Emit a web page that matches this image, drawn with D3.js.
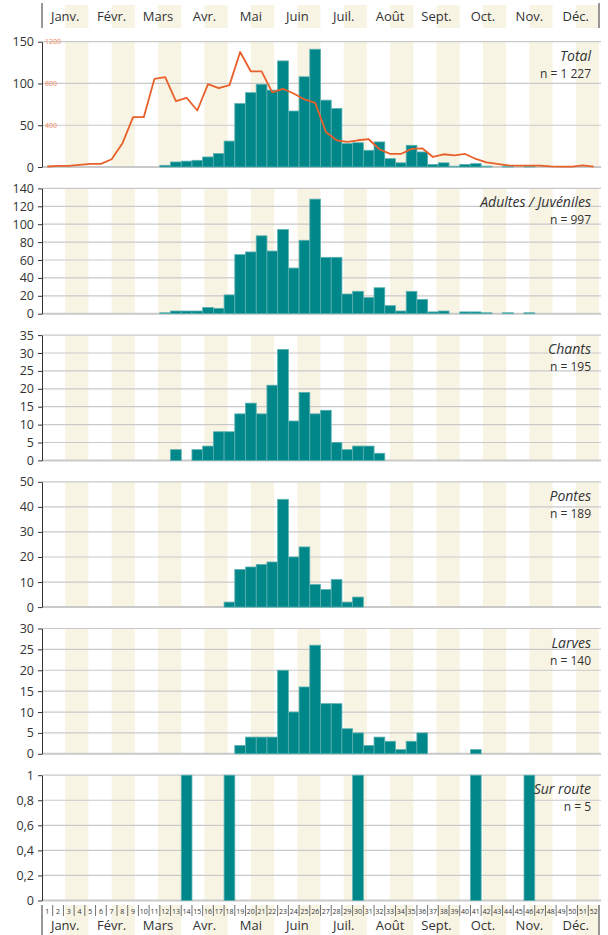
<!DOCTYPE html>
<html><head><meta charset="utf-8">
<script src="https://cdn.jsdelivr.net/npm/d3@7"></script>
<style>
body{margin:0;background:#fff;}
svg{display:block;font-family:"Open Sans",sans-serif;}
</style></head>
<body><svg id="c" width="608" height="935"></svg>
<script>
// ---------- DATA ----------
const weeks = d3.range(1, 53);
const months = ["Janv.","Févr.","Mars","Avr.","Mai","Juin","Juil.","Août","Sept.","Oct.","Nov.","Déc."];

const totalValues = [0,0,0,0,0,0,0,0,0,0,0, 2,6,7,8,12,16,31, 76,89,99,92,127,67,108, 141,80,70,28,29,20,30, 10,5,26,18,3,5,1, 3,4,1,0,1,0,1, 0,0,0,0,0,0];
const totalLine   = [5,10,10,20,30,30,74,224,477,477,845,861,631,663,541,794,755,784,1101,915,915,714,749,704,647,615,336,256,240,256,266,170,125,125,173,179,96,122,112,125,77,45,29,16,13,13,13,6,3,3,16,3];
const adultValues = [0,0,0,0,0,0,0,0,0,0,0, 1,3,3,3,7,6,21, 66,69,87,70,94,51,82, 128,63,63,22,25,18,29, 9,3,25,16,2,3,0, 2,2,1,0,1,0,1, 0,0,0,0,0,0];
const chantValues = [0,0,0,0,0,0,0,0,0,0,0,0, 3,0,3,4,8,8,13,16,13,21,31,11,19,13,14,5,3,4,4,2, 0,0,0,0,0,0,0,0,0,0,0,0,0,0,0,0,0,0,0,0];
const ponteValues = [0,0,0,0,0,0,0,0,0,0,0,0,0,0,0,0,0, 2,15,16,17,18,43,20,24,9,7,11,2,4, 0,0,0,0,0,0,0,0,0,0,0,0,0,0,0,0,0,0,0,0,0,0];
const larveValues = [0,0,0,0,0,0,0,0,0,0,0,0,0,0,0,0,0,0, 2,4,4,4,20,10,16,26,12,12,6,5,2,4,3,1,3,5, 0,0,0,0, 1, 0,0,0,0,0,0,0,0,0,0,0];
const routeValues = [0,0,0,0,0,0,0,0,0,0,0,0,0,1,0,0,0,1,0,0,0,0,0,0,0,0,0,0,0,1,0,0,0,0,0,0,0,0,0,0,1,0,0,0,0,1,0,0,0,0,0,0];

const panelTitles = ["Total","Adultes / Juvéniles","Chants","Pontes","Larves","Sur route"];
const panelCounts = ["n = 1 227","n = 997","n = 195","n = 189","n = 140","n = 5"];
const panelTicks = [
  [0,50,100,150],
  [0,20,40,60,80,100,120,140],
  [0,5,10,15,20,25,30,35],
  [0,10,20,30,40,50],
  [0,5,10,15,20,25,30],
  [0,0.2,0.4,0.6,0.8,1]
];
const lineTicks = [400,800,1200];
const lineMax = 1200;
const seriesList = [totalValues, adultValues, chantValues, ponteValues, larveValues, routeValues];

// ---------- LAYOUT ----------
const svg = d3.select("#c");
const left = 42, right = 599;
const x = d3.scaleLinear().domain([0, 52]).range([left, right]);
const xm = d3.scaleLinear().domain([0, 12]).range([left, right]);
const bw = x(1) - x(0);
const panelTop0 = 41.7, panelStep = 146.7, panelH = 125.3;

const stripeCol = "#f8f4e4";
const barFill = "#00878a", barStroke = "#5bb0b0";
const gridCol = "#c9c9c9", textCol = "#333";
const fmtFR = d => String(d).replace(".", ",");

function stripes(y0, y1) {
  svg.append("g").selectAll("rect").data(d3.range(12)).join("rect")
    .attr("x", m => xm(m + 0.5)).attr("width", m => xm(m + 1) - xm(m + 0.5))
    .attr("y", y0).attr("height", y1 - y0).attr("fill", stripeCol);
}

// header
stripes(5, 28);
svg.append("g").selectAll("line").data([left, right]).join("line")
  .attr("x1", d => d).attr("x2", d => d).attr("y1", 3).attr("y2", 28)
  .attr("stroke", textCol).attr("stroke-width", 1);
svg.append("g").selectAll("text").data(months).join("text")
  .attr("x", (d, i) => xm(i + 0.5)).attr("y", 20.5)
  .attr("text-anchor", "middle").attr("font-size", 13).attr("fill", textCol).text(d => d);

seriesList.forEach((vals, p) => {
  const top = panelTop0 + p * panelStep, bot = top + panelH;
  const ticks = panelTicks[p];
  const y = d3.scaleLinear().domain([0, d3.max(ticks)]).range([bot, top]);
  stripes(top, bot);
  // grid
  svg.append("g").selectAll("line").data(ticks).join("line")
    .attr("x1", left).attr("x2", right + 2).attr("y1", d => y(d)).attr("y2", d => y(d))
    .attr("stroke", gridCol).attr("stroke-width", d => d === 0 ? 2 : 1.2);
  // bars
  const data = weeks.map((w, i) => ({w, v: vals[i]})).filter(d => d.v > 0);
  svg.append("g").selectAll("rect").data(data).join("rect")
    .attr("x", d => x(d.w - 1)).attr("width", bw)
    .attr("y", d => y(d.v)).attr("height", d => y(0) - y(d.v))
    .attr("fill", barFill).attr("stroke", barStroke).attr("stroke-width", 0.8);
  if (p === 0) {
    const y2 = d3.scaleLinear().domain([0, lineMax]).range([bot, top]);
    svg.append("path").datum(totalLine)
      .attr("d", d3.line().x((d, i) => x(i + 0.5)).y(d => y2(d)))
      .attr("fill", "none").attr("stroke", "#e8602a").attr("stroke-width", 1.8)
      .attr("stroke-linejoin", "round");
    const a2 = svg.append("g").attr("transform", `translate(${left},0)`)
      .call(d3.axisRight(y2).tickValues(lineTicks).tickSize(0).tickPadding(3).tickFormat(d3.format("d")));
    a2.select(".domain").remove();
    a2.selectAll("text").attr("font-size", 7).attr("fill", "#f0875e").attr("font-family", "Open Sans, sans-serif");
  }
  // y axis
  const ax = svg.append("g").attr("transform", `translate(${left},0)`)
    .call(d3.axisLeft(y).tickValues(ticks).tickSize(4).tickSizeOuter(0).tickPadding(4)
      .tickFormat(p === 5 ? fmtFR : d3.format("d")));
  ax.select(".domain").attr("stroke", textCol);
  ax.selectAll(".tick line").attr("stroke", textCol);
  ax.selectAll("text").attr("font-size", 12.5).attr("fill", textCol).attr("font-family", "Open Sans, sans-serif");
  // titles
  svg.append("text").attr("x", right - 8).attr("y", top + 19)
    .attr("text-anchor", "end").attr("font-size", 14).attr("font-style", "italic")
    .attr("fill", textCol).text(panelTitles[p]);
  svg.append("text").attr("x", right - 8).attr("y", top + 36)
    .attr("text-anchor", "end").attr("font-size", 12).attr("fill", textCol).text(panelCounts[p]);
});

// bottom axis
stripes(905, 935);
svg.append("g").selectAll("line").data(d3.range(1, 52)).join("line")
  .attr("x1", d => x(d)).attr("x2", d => x(d)).attr("y1", 905).attr("y2", 916)
  .attr("stroke", textCol).attr("stroke-width", 0.7);
svg.append("g").selectAll("line").data([left, right]).join("line")
  .attr("x1", d => d).attr("x2", d => d).attr("y1", 905).attr("y2", 935)
  .attr("stroke", textCol).attr("stroke-width", 1);
svg.append("g").selectAll("text").data(weeks).join("text")
  .attr("x", d => x(d - 0.5)).attr("y", 913.5).attr("text-anchor", "middle")
  .attr("font-size", 7).attr("fill", textCol).text(d => d);
svg.append("g").selectAll("text").data(months).join("text")
  .attr("x", (d, i) => xm(i + 0.5)).attr("y", 930)
  .attr("text-anchor", "middle").attr("font-size", 13).attr("fill", textCol).text(d => d);
</script></body></html>
